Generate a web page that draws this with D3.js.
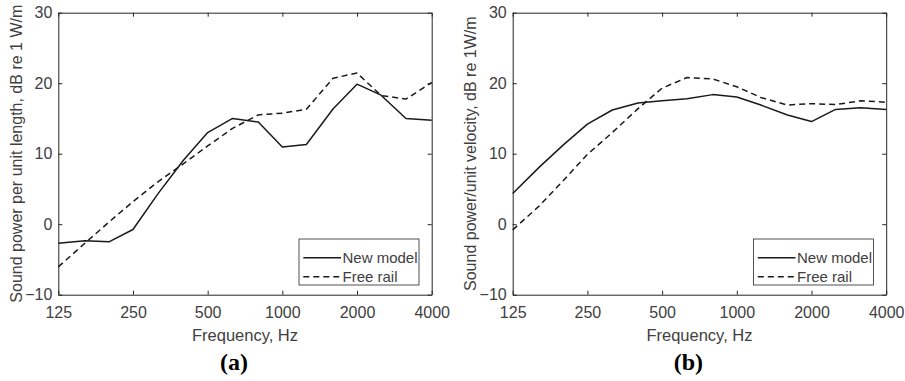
<!DOCTYPE html>
<html>
<head>
<meta charset="utf-8">
<script src="https://cdn.jsdelivr.net/npm/d3@7"></script>
<style>
  html, body { margin: 0; padding: 0; background: #fff; }
  svg { display: block; }
  text { font-family: Arial, "Liberation Sans", Helvetica, sans-serif; fill: #404040; }
  .panel-tag { font-family: "Times New Roman", "Liberation Serif", serif; font-weight: bold; fill: #000; }
</style>
</head>
<body>
<svg id="chart" width="905" height="381"></svg>
<script>
// One-third octave band centre frequencies, Hz
const frequencies = [125, 160, 200, 250, 315, 400, 500, 630, 800, 1000, 1250, 1600, 2000, 2500, 3150, 4000];
const xTickValues = [125, 250, 500, 1000, 2000, 4000];
const yTickValues = [-10, 0, 10, 20, 30];

// (a) sound power per unit length, dB re 1 W/m
const lengthNewModel = [-2.7, -2.35, -2.5, -0.75, 4.3, 9.1, 13.0, 15.0, 14.5, 10.95, 11.3, 16.35, 19.86, 18.3, 15.0, 14.75];
const lengthFreeRail = [-6.05, -2.7, 0.3, 3.2, 6.0, 8.6, 11.1, 13.6, 15.5, 15.75, 16.3, 20.7, 21.45, 18.25, 17.75, 20.1];

// (b) sound power per unit velocity, dB re 1 W/m
const velocityNewModel = [4.35, 8.1, 11.25, 14.2, 16.2, 17.2, 17.5, 17.8, 18.38, 18.05, 16.9, 15.48, 14.56, 16.28, 16.52, 16.28];
const velocityFreeRail = [-0.8, 2.6, 6.2, 9.9, 13.0, 16.4, 19.3, 20.8, 20.6, 19.5, 17.97, 16.9, 17.1, 16.97, 17.5, 17.3];

const seriesNames = ["New model", "Free rail"];
const panels = [
  { tag: "(a)", yLabel: "Sound power per unit length, dB re 1 W/m", data: [lengthNewModel, lengthFreeRail],
    left: 58.3, right: 431.7, labelX: 21.5 },
  { tag: "(b)", yLabel: "Sound power/unit velocity, dB re 1W/m", data: [velocityNewModel, velocityFreeRail],
    left: 512.7, right: 886.2, labelX: 475.5 }
];

const plotTop = 12.7, plotBottom = 294.7;
const axisColor = "#262626";
const svg = d3.select("#chart");
const fmtY = d => d < 0 ? "\u2212" + Math.abs(d) : String(d);

panels.forEach(p => {
  const x = d3.scaleLog().domain([125, 4000]).range([p.left, p.right]);
  const y = d3.scaleLinear().domain([-10, 30]).range([plotBottom, plotTop]);
  const g = svg.append("g");
  const tick = 4;

  // Axes with inward ticks on all four sides (boxed frame)
  const bottomAxis = d3.axisBottom(x).tickValues(xTickValues).tickFormat(d3.format("d")).tickSizeInner(-tick).tickSizeOuter(0).tickPadding(12);
  const topAxis = d3.axisTop(x).tickValues(xTickValues).tickFormat("").tickSizeInner(-tick).tickSizeOuter(0);
  const leftAxis = d3.axisLeft(y).tickValues(yTickValues).tickFormat(fmtY).tickSizeInner(-tick).tickSizeOuter(0).tickPadding(6);
  const rightAxis = d3.axisRight(y).tickValues(yTickValues).tickFormat("").tickSizeInner(-tick).tickSizeOuter(0);

  const styleAxis = sel => {
    sel.selectAll("path.domain").attr("stroke", axisColor).attr("stroke-width", 1);
    sel.selectAll(".tick line").attr("stroke", axisColor).attr("stroke-width", 1);
    sel.selectAll(".tick text").attr("fill", "#404040").style("font-size", "16px")
       .style("font-family", "Arial, 'Liberation Sans', sans-serif");
  };
  g.append("g").attr("transform", `translate(0,${plotBottom})`).call(bottomAxis).call(styleAxis);
  g.append("g").attr("transform", `translate(0,${plotTop})`).call(topAxis).call(styleAxis);
  g.append("g").attr("transform", `translate(${p.left},0)`).call(leftAxis).call(styleAxis);
  g.append("g").attr("transform", `translate(${p.right},0)`).call(rightAxis).call(styleAxis);

  // Data curves
  const line = d3.line().x((d, i) => x(frequencies[i])).y(d => y(d));
  p.data.forEach((vals, k) => {
    g.append("path").datum(vals).attr("d", line)
      .attr("fill", "none").attr("stroke", "#1a1a1a").attr("stroke-width", 1.5)
      .attr("stroke-linejoin", "round")
      .attr("stroke-dasharray", k === 1 ? "6,4" : null);
  });

  // Legend box in lower-right corner
  const lg = g.append("g").attr("transform", `translate(${p.right - 132.7},239)`);
  lg.append("rect").attr("x", 0).attr("y", 0).attr("width", 120).attr("height", 46)
    .attr("fill", "#fff").attr("stroke", axisColor).attr("stroke-width", 0.8);
  seriesNames.forEach((name, k) => {
    const ly = 18.7 + k * 19;
    lg.append("line").attr("x1", 4.3).attr("x2", 42).attr("y1", ly).attr("y2", ly)
      .attr("stroke", "#1a1a1a").attr("stroke-width", 1.5)
      .attr("stroke-dasharray", k === 1 ? "6,4" : null);
    lg.append("text").attr("x", 43.5).attr("y", ly + 5).style("font-size", "15px").text(name);
  });

  // Axis titles
  g.append("text").attr("x", (p.left + p.right) / 2).attr("y", 341).attr("text-anchor", "middle")
    .style("font-size", "16.5px").text("Frequency, Hz");
  g.append("text").attr("transform", `translate(${p.labelX},${(plotTop + plotBottom) / 2}) rotate(-90)`)
    .attr("text-anchor", "middle").style("font-size", "16px").text(p.yLabel);

  // Panel tag
  g.append("text").attr("class", "panel-tag").attr("x", (p.left + p.right) / 2 - 11).attr("y", 370)
    .attr("text-anchor", "middle").style("font-size", "24px").text(p.tag);
});
</script>
</body>
</html>
